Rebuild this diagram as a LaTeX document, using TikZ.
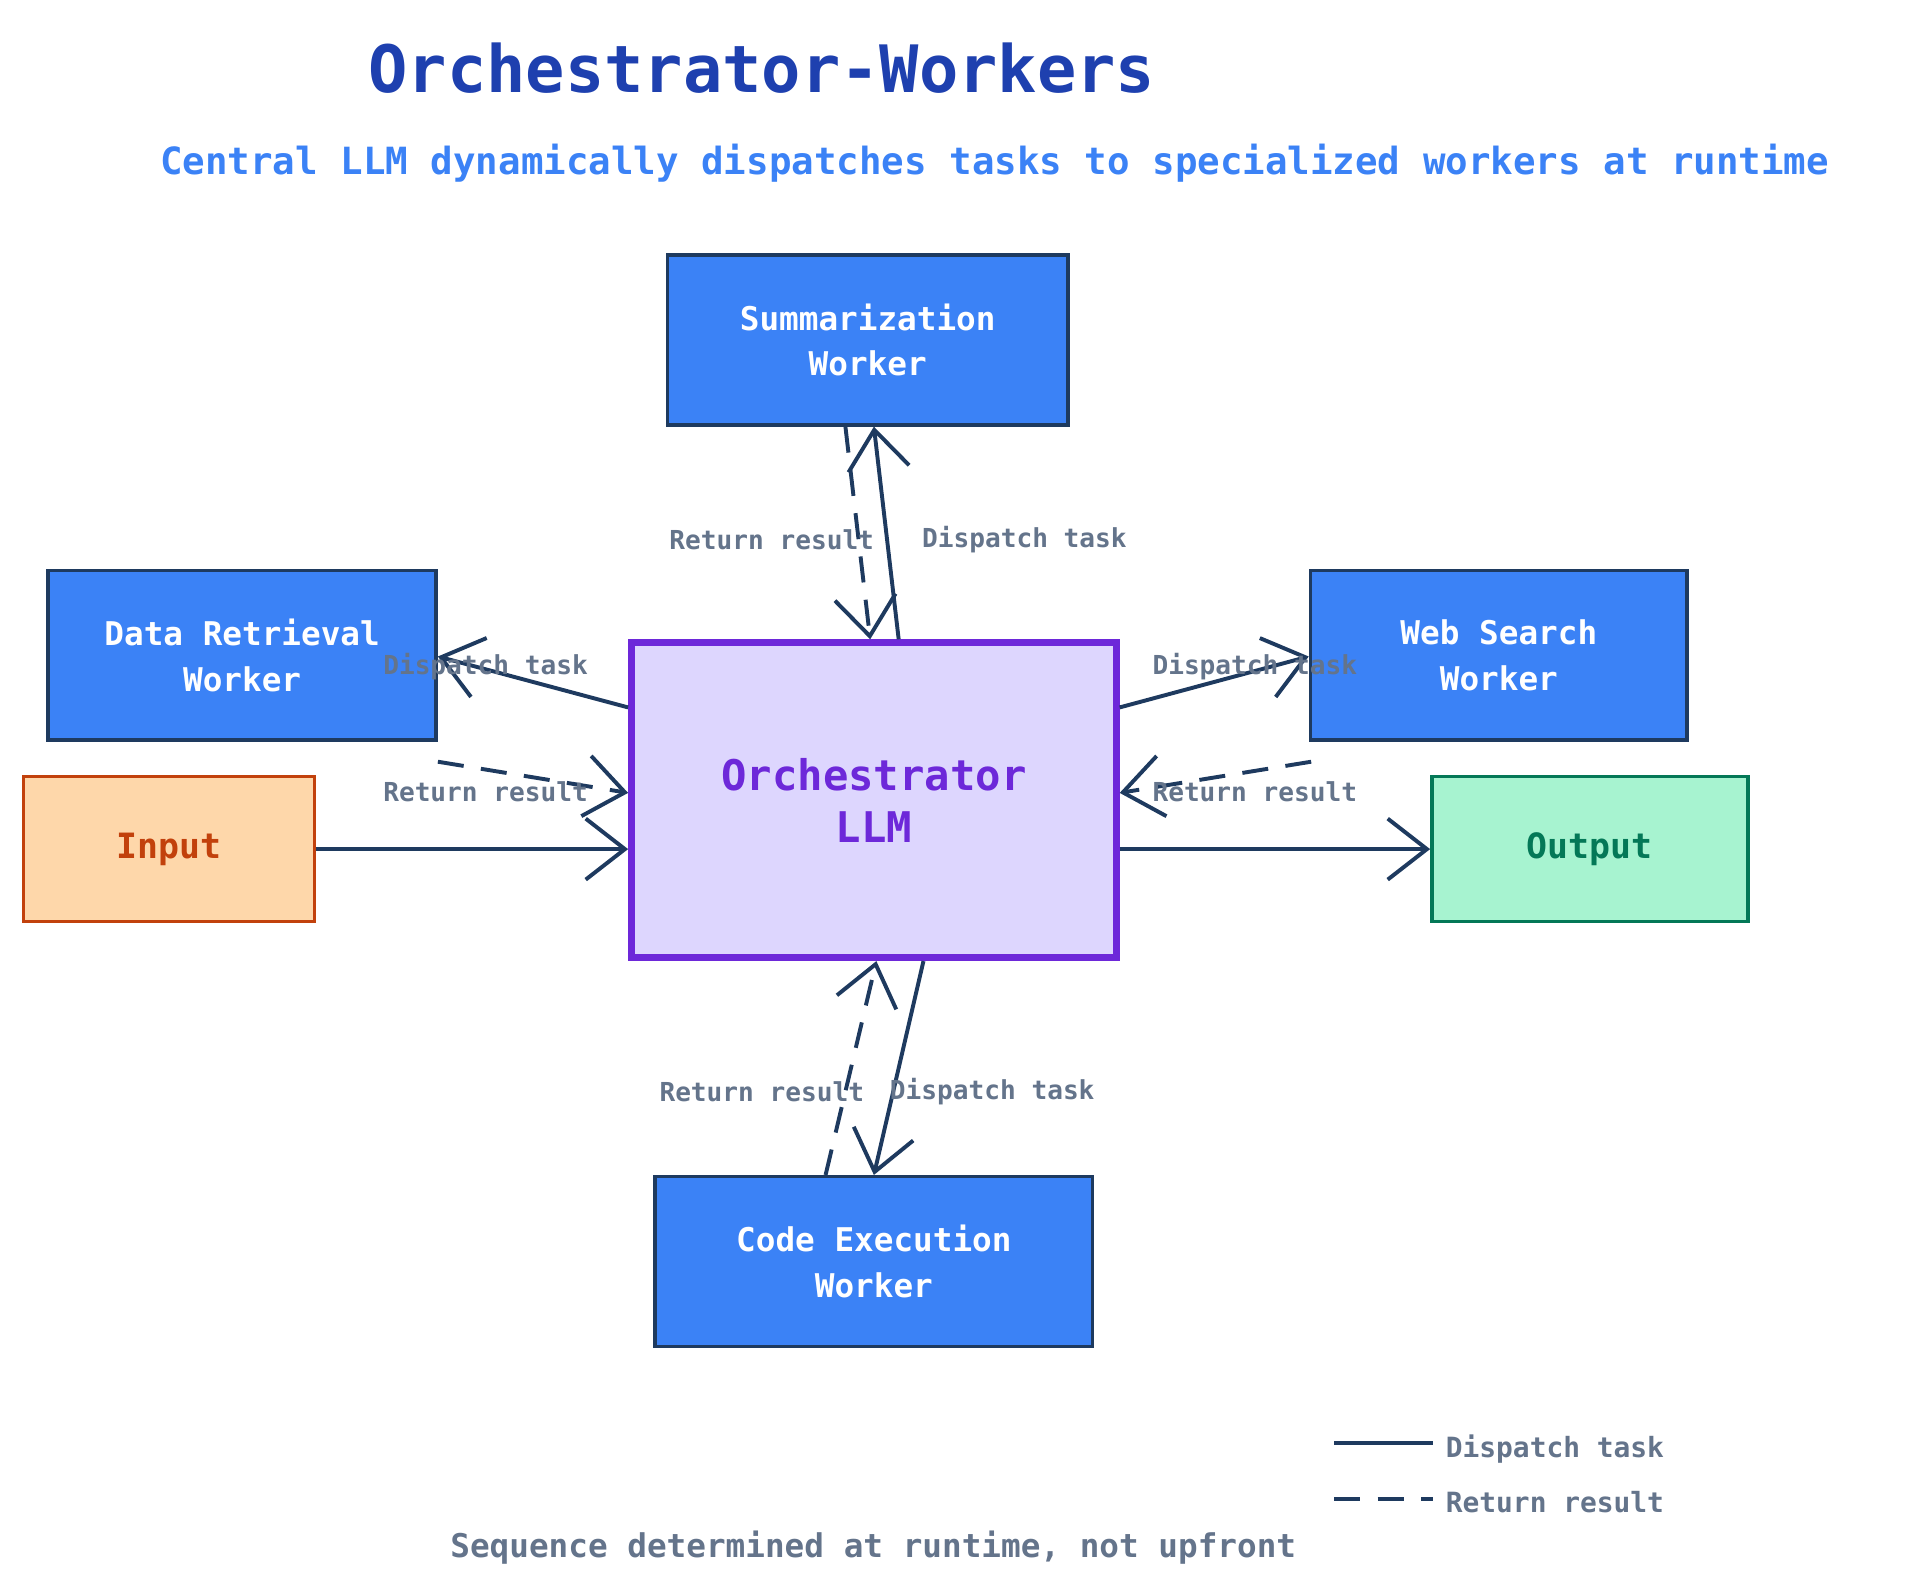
\documentclass[tikz,border=0pt]{standalone}
\usepackage{fontspec}
\setmonofont{DejaVu Sans Mono}
\usetikzlibrary{arrows.meta}
\definecolor{navy}{HTML}{1E3A5F}
\definecolor{wblue}{HTML}{3B82F6}
\definecolor{lab}{HTML}{64748B}
\definecolor{ttl}{HTML}{1E40AF}
\definecolor{purp}{HTML}{6D28D9}
\definecolor{purpf}{HTML}{DDD6FE}
\definecolor{ored}{HTML}{C2410C}
\definecolor{orf}{HTML}{FED7AA}
\definecolor{grn}{HTML}{047857}
\definecolor{grnf}{HTML}{A7F3D0}
\begin{document}
\begin{tikzpicture}[x=0.01cm,y=-0.01cm,
 box/.style={draw=navy,line width=0.8pt,minimum width=#1*0.01cm,inner sep=0,align=center},
 worker/.style={box=300,fill=wblue,text=white,font=\ttfamily\bfseries\fontsize{7.5}{10.5}\selectfont,minimum height=1.37cm},
 edge/.style={draw=navy,line width=0.9pt,-{Straight Barb[length=9pt,width=14pt,line width=0.9pt]}},
 ret/.style={edge,dash pattern=on 6pt off 4pt},
 lbl/.style={text=lab,font=\ttfamily\bfseries\fontsize{6}{7}\selectfont,inner sep=1pt}]
\useasboundingbox (0,0) rectangle (1550,1277);
\node[font=\ttfamily\bfseries\fontsize{15}{18}\selectfont,text=ttl] (title) at (615,55) {Orchestrator-Workers};
\node[font=\ttfamily\bfseries\fontsize{8.6}{11}\selectfont,text=wblue] (sub) at (803,132) {Central LLM dynamically dispatches tasks to specialized workers at runtime};
\node[worker,minimum width=3.23cm] (sum) at (700.5,274.5) {Summarization\\Worker};
\node[worker,minimum width=3.13cm] (dat) at (195.5,529) {Data Retrieval\\Worker};
\node[worker,minimum width=3.04cm] (web) at (1210,529) {Web Search\\Worker};
\node[worker,minimum width=3.53cm] (code) at (705.5,1018.5) {Code Execution\\Worker};
\node[draw=purp,line width=1.6pt,fill=purpf,text=purp,minimum width=3.91cm,minimum height=2.54cm,align=center,font=\ttfamily\bfseries\fontsize{9.7}{12}\selectfont] (orc) at (705.5,646) {Orchestrator\\LLM};
\node[draw=ored,line width=0.8pt,fill=orf,text=ored,minimum width=2.35cm,minimum height=1.17cm,font=\ttfamily\bfseries\fontsize{8}{10}\selectfont] (in) at (136.5,685.5) {Input};
\node[draw=grn,line width=0.8pt,fill=grnf,text=grn,minimum width=2.55cm,minimum height=1.17cm,font=\ttfamily\bfseries\fontsize{8}{10}\selectfont] (out) at (1283.5,685.5) {Output};
\draw[edge] ([shift={(20,0)}]orc.north) -- ([shift={(5,0)}]sum.south);
\draw[ret] ([shift={(-18,0)}]sum.south) -- ([shift={(-3,0)}]orc.north);
\draw[edge] ([shift={(0,55)}]orc.north west) -- ([shift={(0,1)}]dat.east);
\draw[ret] ([shift={(0,16)}]dat.south east) -- ([shift={(0,124)}]orc.north west);
\draw[edge] ([shift={(0,55)}]orc.north east) -- ([shift={(0,1)}]web.west);
\draw[ret] ([shift={(2,16)}]web.south west) -- ([shift={(0,124)}]orc.north east);
\draw[edge] ([shift={(40,0)}]orc.south) -- (code.north);
\draw[ret] ([shift={(-39,0)}]code.north) -- ([shift={(2,0)}]orc.south);
\draw[edge] (in.east) -- (in.east -| orc.west);
\draw[edge] (out.west -| orc.east) -- (out.west);
\node[lbl] (l1) at (623,436) {Return result};
\node[lbl] (l2) at (827,436) {Dispatch task};
\node[lbl] (l3) at (392,538) {Dispatch task};
\node[lbl] (l4) at (392,639) {Return result};
\node[lbl] (l5) at (1013,538) {Dispatch task};
\node[lbl] (l6) at (1013,639) {Return result};
\node[lbl] (l7) at (615,881) {Return result};
\node[lbl] (l8) at (801,881) {Dispatch task};
\coordinate (g1) at (1077,1165); \coordinate (g2) at (1157,1165);
\coordinate (g3) at (1077,1210); \coordinate (g4) at (1157,1210);
\draw[navy,line width=0.9pt] (g1) -- (g2);
\draw[navy,line width=0.9pt,dash pattern=on 6pt off 4pt] (g3) -- (g4);
\node[lbl,anchor=west,font=\ttfamily\bfseries\fontsize{6.4}{8}\selectfont] (lg1) at (1163,1170) {Dispatch task};
\node[lbl,anchor=west,font=\ttfamily\bfseries\fontsize{6.4}{8}\selectfont] (lg2) at (1163,1213) {Return result};
\node[text=lab,font=\ttfamily\bfseries\fontsize{7.5}{9}\selectfont] (foot) at (705,1249) {Sequence determined at runtime, not upfront};
\end{tikzpicture}
\end{document}
